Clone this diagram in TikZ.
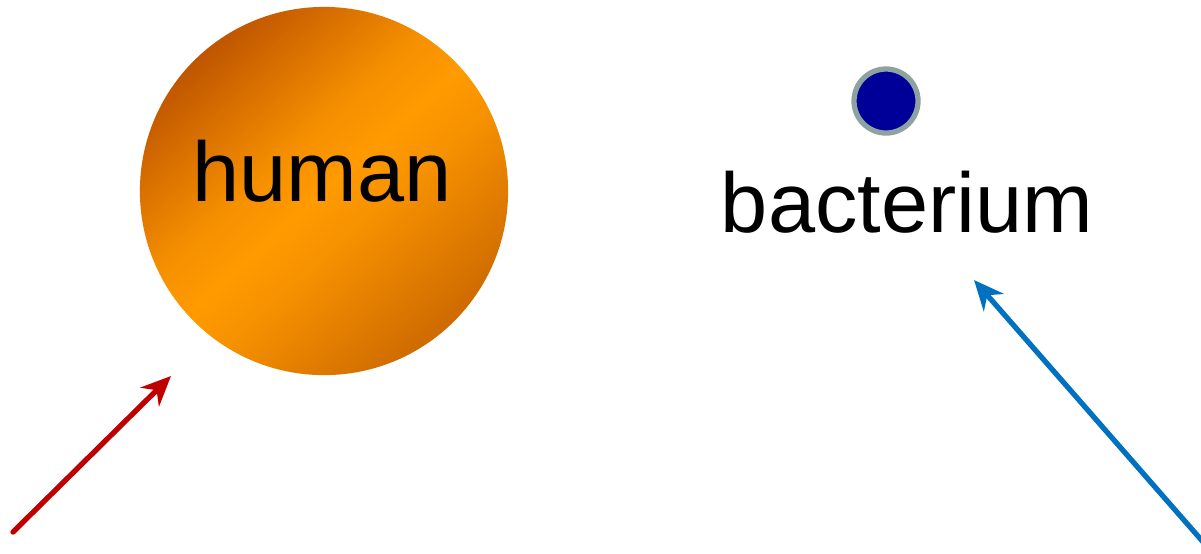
\documentclass[tikz,border=0pt]{standalone}
\usepackage{fontspec}
\setmainfont{Liberation Sans}
\usetikzlibrary{arrows.meta}

\definecolor{darkorange}{HTML}{BF5500}
\definecolor{brightorange}{HTML}{FF9A00}
\definecolor{rustorange}{HTML}{CE6A00}
\definecolor{navydot}{HTML}{000099}
\definecolor{greyring}{HTML}{8EA2A2}
\definecolor{arrowred}{HTML}{C00000}
\definecolor{arrowblue}{HTML}{0070C0}

\pgfdeclareverticalshading{humanglow}{100bp}{color(0bp)=(rustorange);
color(25bp)=(rustorange); color(44bp)=(brightorange!85!rustorange);
color(50bp)=(brightorange); color(57bp)=(brightorange!85!darkorange);
color(75bp)=(darkorange); color(100bp)=(darkorange)}

\tikzset{
  bigfont/.style={font=\fontsize{24.1}{29}\selectfont},
  pointer/.style={line width=1.5pt,line cap=round,-{Stealth[length=8.5pt,width=7.5pt]}},
}

\begin{document}
\begin{tikzpicture}[x=0.01cm,y=-0.01cm]
\useasboundingbox (0,0) rectangle (1201,553);
% the two bodies
\node(human)[circle,minimum size=3.68cm,inner sep=0pt,
shade,shading=humanglow,shading angle=42] at (324,191) {};
\node(humanlabel)[bigfont,anchor=base] at (322,201) {human};
\node(dot)[circle,minimum size=0.64cm,inner sep=0pt,
fill=navydot,draw=greyring,line width=1.5pt] at (886,101) {};
\node(bactlabel)[bigfont,anchor=base] at (907,232) {bacterium};
% pointers
\coordinate (redtail) at (13,532);
\coordinate (redtip) at (171,376);
\coordinate (bluetail) at (1204,543);
\coordinate (bluetip) at (974,280);
\draw[pointer,arrowred] (redtail) -- (redtip);
\draw[pointer,arrowblue] (bluetail) -- (bluetip);
\end{tikzpicture}
\end{document}
